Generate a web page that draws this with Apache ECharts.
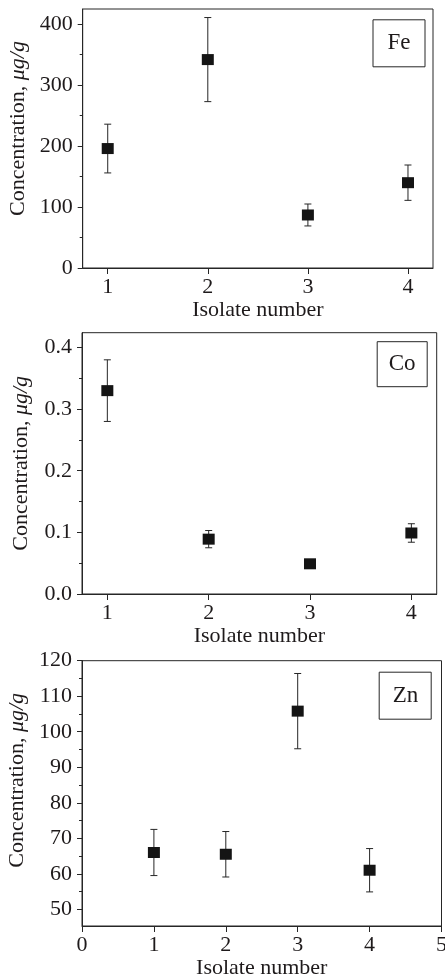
<!DOCTYPE html>
<html>
<head>
<meta charset="utf-8">
<script src="https://cdn.jsdelivr.net/npm/echarts@6/dist/echarts.min.js"></script>
<style>
html,body{margin:0;padding:0;background:#fff;}
#chart{width:445px;height:976px;}
</style>
</head>
<body>
<div id="chart"></div>
<script>
// ---- data ----
const isolates = [1, 2, 3, 4];
const feMean = [196, 342, 87, 140];
const feErr = [40, 69, 18, 29];
const coMean = [0.33, 0.089, 0.049, 0.099];
const coErr = [0.05, 0.014, 0.003, 0.015];
const znMean = [66, 65.5, 105.8, 61];
const znErr = [6.5, 6.4, 10.6, 6.1];

const feYTicks = [0, 100, 200, 300, 400];
const feYMinor = [50, 150, 250, 350];
const coYTicks = [0.0, 0.1, 0.2, 0.3, 0.4];
const coYMinor = [0.05, 0.15, 0.25, 0.35];
const znYTicks = [50, 60, 70, 80, 90, 100, 110, 120];
const znYMinor = [55, 65, 75, 85, 95, 105, 115];
const xTicksTop = [1, 2, 3, 4];
const xTicksZn = [0, 1, 2, 3, 4, 5];

const panelLabels = ['Fe', 'Co', 'Zn'];
const xTitle = 'Isolate number';
const yTitle = 'Concentration, {i|μg/g}';

// ---- style ----
const FONT = "'Liberation Serif', 'Times New Roman', serif";
const INK = '#1e1a1b';
const LINE = '#262626';
const FS = 22;

const panels = [
  { grid: {left: 82.7, top: 9, width: 350.3, height: 259},
    xMin: 0.75, xMax: 4.25, xTicks: xTicksTop,
    yMin: 0, yMax: 425, yTicks: feYTicks, yMinor: feYMinor,
    mean: feMean, err: feErr, fmt: v => String(v), namePad: [0,0,0,20],
    box: {left: 373, top: 19.3, padding: [11, 14.5]} },
  { grid: {left: 82, top: 332.7, width: 354.7, height: 261.3},
    xMin: 0.75, xMax: 4.25, xTicks: xTicksTop,
    yMin: 0, yMax: 0.424, yTicks: coYTicks, yMinor: coYMinor,
    mean: coMean, err: coErr, fmt: v => v.toFixed(1), namePad: [0,0,0,0],
    box: {left: 376.7, top: 341.7, padding: [9.5, 12]} },
  { grid: {left: 82, top: 660.7, width: 359.5, height: 265.3},
    xMin: 0, xMax: 5, xTicks: xTicksZn,
    yMin: 45.3, yMax: 120, yTicks: znYTicks, yMinor: znYMinor,
    mean: znMean, err: znErr, fmt: v => String(v), namePad: [0,0,0,26],
    box: {left: 379.3, top: 671.7, padding: [11, 13.4]} }
];

const grids = [], xAxes = [], yAxes = [], series = [], titles = [];

panels.forEach((p, i) => {
  grids.push(Object.assign({show: true, containLabel: false, outerBoundsMode: 'none',
    borderColor: LINE, borderWidth: 1, backgroundColor: 'transparent'}, p.grid));
  xAxes.push({
    type: 'value', gridIndex: i, min: p.xMin, max: p.xMax,
    axisLine: {show: true, onZero: false, lineStyle: {color: LINE, width: 1}},
    axisTick: {show: true, customValues: p.xTicks, length: 6, lineStyle: {color: LINE, width: 1}},
    axisLabel: {customValues: p.xTicks, fontSize: FS, fontFamily: FONT, color: INK, margin: 8},
    splitLine: {show: false},
    name: xTitle, nameLocation: 'middle', nameGap: 28,
    nameTextStyle: {fontSize: FS, fontFamily: FONT, color: INK}
  });
  yAxes.push({
    type: 'value', gridIndex: i, min: p.yMin, max: p.yMax, position: 'left',
    axisLine: {show: true, onZero: false, lineStyle: {color: LINE, width: 1}},
    axisTick: {show: true, customValues: p.yTicks, length: 5, lineStyle: {color: LINE, width: 1}},
    axisLabel: {customValues: p.yTicks, formatter: p.fmt, fontSize: FS, fontFamily: FONT, color: INK, margin: 10},
    splitLine: {show: false},
    name: yTitle, nameLocation: 'middle', nameGap: 50,
    nameTextStyle: {fontSize: FS, fontFamily: FONT, color: INK, padding: p.namePad,
      rich: {i: {fontSize: FS, fontFamily: FONT, color: INK, fontStyle: 'italic'}}}
  });
  yAxes.push({
    type: 'value', gridIndex: i, min: p.yMin, max: p.yMax, position: 'left',
    axisLine: {show: false},
    axisTick: {show: true, customValues: p.yMinor, length: 3, lineStyle: {color: LINE, width: 1}},
    axisLabel: {show: false},
    splitLine: {show: false}
  });
  const ptData = isolates.map((x, k) => [x, p.mean[k], p.err[k]]);
  series.push({
    type: 'custom', xAxisIndex: i, yAxisIndex: 2 * i, z: 2,
    encode: {x: 0, y: 1},
    data: ptData,
    renderItem: function (params, api) {
      const x = api.value(0), y = api.value(1), e = api.value(2);
      const top = api.coord([x, y + e]);
      const bot = api.coord([x, y - e]);
      const w = 3.5;
      const st = {stroke: LINE, lineWidth: 1};
      return {type: 'group', children: [
        {type: 'line', shape: {x1: top[0], y1: top[1], x2: bot[0], y2: bot[1]}, style: st},
        {type: 'line', shape: {x1: top[0] - w, y1: top[1], x2: top[0] + w, y2: top[1]}, style: st},
        {type: 'line', shape: {x1: bot[0] - w, y1: bot[1], x2: bot[0] + w, y2: bot[1]}, style: st}
      ]};
    }
  });
  series.push({
    type: 'scatter', xAxisIndex: i, yAxisIndex: 2 * i, z: 3,
    symbol: 'rect', symbolSize: [12, 11],
    itemStyle: {color: '#141414', opacity: 1},
    data: ptData.map(d => [d[0], d[1]])
  });
  titles.push(Object.assign({
    text: panelLabels[i], borderColor: LINE, borderWidth: 1,
    textStyle: {fontSize: 23, fontWeight: 'normal', fontFamily: FONT, color: INK, lineHeight: 26}
  }, p.box));
});

const chart = echarts.init(document.getElementById('chart'), null, {renderer: 'canvas'});
chart.setOption({
  animation: false,
  backgroundColor: '#fff',
  title: titles,
  grid: grids,
  xAxis: xAxes,
  yAxis: yAxes,
  series: series
});
</script>
</body>
</html>
